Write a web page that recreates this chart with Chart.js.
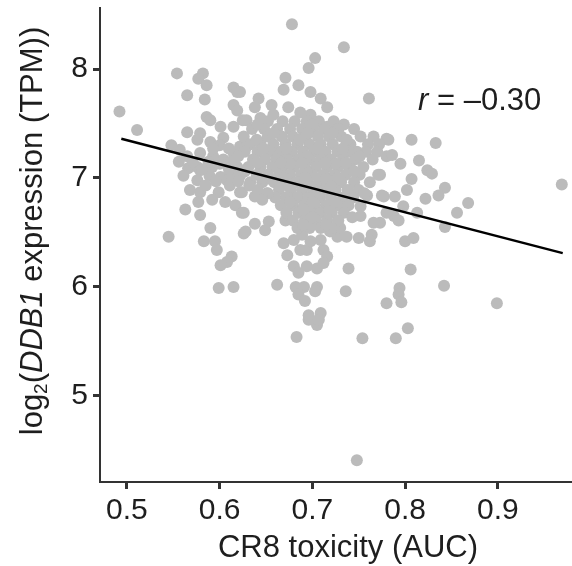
<!DOCTYPE html>
<html>
<head>
<meta charset="utf-8">
<script src="https://cdn.jsdelivr.net/npm/chart.js@4"></script>
<style>
  body { margin: 0; background: #fff; }
  canvas { display: block; }
</style>
</head>
<body>
<canvas id="chart_scatter" width="572" height="566"></canvas>
<script>
const canvasScatter = document.getElementById('chart_scatter');

/* DATA */
const X_TICKS = [0.5, 0.6, 0.7, 0.8, 0.9];
const Y_TICKS = [5, 6, 7, 8];
const X_RANGE = [0.471, 0.980];
const Y_RANGE = [4.21, 8.56];

// cell lines above / left of the cloud
const UPPER_POINTS = [
    [0.554,7.96],[0.582,7.96],[0.577,7.91],[0.586,7.85],[0.565,7.76],[0.584,7.72],[0.615,7.83],[0.619,7.79],
    [0.492,7.61],[0.511,7.44],[0.586,7.56],[0.590,7.53],[0.615,7.67],[0.619,7.62],[0.601,7.47],[0.565,7.42],
    [0.579,7.41],[0.576,7.35],[0.590,7.33],[0.604,7.37],[0.615,7.47],[0.625,7.53],[0.557,7.26],[0.565,7.20],
    [0.579,7.23],[0.593,7.20],[0.615,7.23],[0.622,7.29],
    [0.678,8.41],[0.734,8.20],[0.703,8.10],[0.696,8.01],[0.671,7.92],[0.685,7.85],[0.669,7.81],[0.698,7.79],
    [0.709,7.73],[0.716,7.65],[0.761,7.73],[0.642,7.73],[0.638,7.65],[0.656,7.67],[0.674,7.65],[0.622,7.79],
    [0.780,7.36],[0.780,7.20],[0.734,7.49],[0.716,7.47],[0.698,7.58],[0.687,7.60],[0.658,7.58],[0.644,7.55],
    [0.629,7.53],[0.644,7.32],[0.629,7.29],[0.748,7.24],[0.737,7.33]
];

// right hand side
const RIGHT_POINTS = [
    [0.782,7.35],[0.807,7.35],[0.833,7.32],[0.786,7.21],[0.795,7.13],[0.815,7.16],[0.824,7.07],[0.829,7.04],
    [0.807,6.99],[0.773,7.03],[0.843,6.91],[0.836,6.84],[0.802,6.89],[0.789,6.83],[0.777,6.83],[0.822,6.81],
    [0.969,6.94],[0.868,6.77],[0.856,6.68],[0.843,6.55],[0.798,6.74],[0.813,6.68],[0.788,6.65],[0.780,6.68],
    [0.793,6.61],[0.800,6.42],[0.809,6.45],[0.773,6.59],
    [0.899,5.85],[0.842,6.01],[0.806,6.16],[0.794,5.99],[0.793,5.93],[0.780,5.85],[0.796,5.86],[0.803,5.62],
    [0.790,5.53]
];

// below the line
const LOWER_POINTS = [
    [0.683,5.54],[0.705,5.65],[0.696,5.70],[0.754,5.53],[0.748,4.41],
    [0.566,7.09],[0.579,7.07],[0.576,6.98],[0.568,6.89],[0.579,6.87],[0.577,6.78],[0.563,6.71],[0.579,6.66],
    [0.601,7.01],[0.608,6.98],[0.599,6.87],[0.606,6.78],[0.622,6.87],[0.617,6.75],[0.624,6.68],[0.590,6.54],
    [0.545,6.46],[0.583,6.42],[0.595,6.42],[0.597,6.34],[0.613,6.28],[0.608,6.23],[0.601,6.20],[0.626,6.49],
    [0.599,5.99],[0.615,6.00],[0.576,7.10],[0.619,7.10],
    [0.771,7.03],[0.759,6.84],[0.775,6.84],[0.752,6.74],[0.752,6.65],[0.766,6.59],[0.764,6.48],[0.750,6.45],
    [0.762,6.42],[0.739,6.17],[0.669,6.40],[0.673,6.29],[0.680,6.19],[0.662,6.02],[0.682,6.00],[0.691,6.00],
    [0.705,6.00],[0.703,5.96],[0.685,5.93],[0.692,5.87],[0.736,5.96],[0.696,5.74],[0.709,5.76],[0.707,5.70],
    [0.638,6.58],[0.653,6.60],[0.649,6.52],[0.628,6.51],[0.626,6.68],[0.624,6.87],[0.638,6.83],[0.651,6.86],
    [0.671,6.61],[0.680,6.43],[0.687,6.34],[0.694,6.34],[0.712,6.34],[0.716,6.28],[0.705,6.17],[0.694,6.19],
    [0.685,6.13],[0.712,6.22],[0.727,6.46],[0.737,6.46],[0.730,6.54],[0.719,6.51],[0.709,6.43],[0.698,6.42],
    [0.689,6.48],[0.743,7.07]
];

// dense centre of the cloud
const CORE_POINTS = [
    [0.652,7.52],[0.668,7.52],[0.681,7.52],[0.694,7.52],[0.707,7.52],[0.723,7.52],
    [0.635,7.45],[0.648,7.45],[0.662,7.45],[0.676,7.45],[0.689,7.45],[0.701,7.45],[0.713,7.45],[0.728,7.45],[0.745,7.45],
    [0.626,7.38],[0.652,7.38],[0.667,7.38],[0.679,7.38],[0.693,7.38],[0.706,7.38],[0.718,7.38],[0.731,7.38],[0.752,7.38],[0.766,7.38],
    [0.633,7.31],[0.658,7.31],[0.671,7.31],[0.684,7.31],[0.697,7.31],[0.709,7.31],[0.722,7.31],[0.741,7.31],[0.760,7.31],[0.772,7.31],
    [0.627,7.24],[0.641,7.24],[0.655,7.24],[0.666,7.24],[0.678,7.24],[0.690,7.24],[0.702,7.24],[0.714,7.24],[0.727,7.24],[0.739,7.24],[0.758,7.24],[0.770,7.24],
    [0.604,7.17],[0.636,7.17],[0.649,7.17],[0.661,7.17],[0.673,7.17],[0.685,7.17],[0.697,7.17],[0.709,7.17],[0.720,7.17],[0.733,7.17],[0.746,7.17],[0.765,7.17],
    [0.592,7.10],[0.631,7.10],[0.644,7.10],[0.657,7.10],[0.668,7.10],[0.680,7.10],[0.692,7.10],[0.704,7.10],[0.716,7.10],[0.728,7.10],[0.740,7.10],[0.755,7.10],
    [0.612,7.03],[0.640,7.03],[0.652,7.03],[0.664,7.03],[0.676,7.03],[0.688,7.03],[0.700,7.03],[0.712,7.03],[0.724,7.03],[0.736,7.03],[0.751,7.03],
    [0.633,6.96],[0.646,6.96],[0.659,6.96],[0.671,6.96],[0.683,6.96],[0.695,6.96],[0.707,6.96],[0.719,6.96],[0.731,6.96],[0.745,6.96],[0.762,6.96],
    [0.641,6.89],[0.664,6.89],[0.677,6.89],[0.689,6.89],[0.701,6.89],[0.713,6.89],[0.725,6.89],[0.738,6.89],[0.750,6.89],
    [0.660,6.82],[0.672,6.82],[0.684,6.82],[0.696,6.82],[0.708,6.82],[0.720,6.82],[0.733,6.82],[0.744,6.82],
    [0.666,6.75],[0.679,6.75],[0.691,6.75],[0.703,6.75],[0.715,6.75],[0.727,6.75],[0.739,6.75],
    [0.672,6.68],[0.685,6.68],[0.697,6.68],[0.709,6.68],[0.721,6.68],[0.734,6.68],
    [0.679,6.61],[0.692,6.61],[0.704,6.61],[0.716,6.61],[0.728,6.61],
    [0.684,6.54],[0.697,6.54],[0.709,6.54],[0.721,6.54],
    [0.641,7.49],[0.700,7.49],[0.640,7.35],[0.686,7.35],[0.737,7.35],[0.620,7.20],[0.694,7.20],[0.751,7.20],
    [0.600,7.13],[0.676,7.13],[0.725,7.13],[0.627,7.06],[0.694,7.06],[0.745,7.06],[0.655,6.99],[0.715,6.99],
    [0.652,6.86],[0.707,6.86],[0.756,6.86],[0.690,6.71],[0.718,6.71],[0.700,6.64],[0.743,6.64],
    [0.556,7.15],[0.571,7.15],[0.588,7.15],[0.612,7.15],[0.561,7.02],[0.589,7.02],[0.622,7.02],
    [0.585,6.93],[0.611,6.93],[0.632,6.93],[0.548,7.30],[0.600,7.30],[0.592,6.80],[0.646,6.80],
    [0.658,7.41],[0.695,7.41],[0.722,7.41],[0.647,7.27],[0.672,7.27],[0.706,7.27],[0.733,7.27],
    [0.641,7.14],[0.666,7.14],[0.689,7.14],[0.714,7.14],[0.736,7.14],[0.646,7.00],[0.670,7.00],[0.692,7.00],[0.727,7.00],
    [0.675,6.92],[0.698,6.92],[0.720,6.92],[0.676,6.78],[0.700,6.78],[0.724,6.78],[0.690,6.57],[0.715,6.57],
    [0.593,7.27],[0.610,7.27],[0.581,7.08],[0.610,7.08],[0.596,6.97],[0.620,6.97]
];

// linear fit, r = -0.30
const FIT_SLOPE = -2.206;
const FIT_INTERCEPT = 8.450;
const FIT_X = [0.494, 0.970];
const R_LABEL = 'r';
const R_VALUE = ' = \u20130.30';

const X_TITLE = 'CR8 toxicity (AUC)';
const Y_TITLE = [
    ['log', ''],
    ['2', 'sub'],
    ['(', ''],
    ['DDB1', 'italic'],
    [' expression (TPM))', '']
];

/* STYLE */
const FONT = "'Liberation Sans', Arial, Helvetica, sans-serif";
const TEXT_COLOR = '#1e1e1e';
const AXIS_COLOR = '#333333';
const POINT_COLOR = '#bbbbbb';

const toXY = (pairs) => pairs.map(p => ({ x: p[0], y: p[1] }));

const allPoints = [].concat(
    toXY(UPPER_POINTS),
    toXY(RIGHT_POINTS),
    toXY(LOWER_POINTS),
    toXY(CORE_POINTS)
);

const fitLine = FIT_X.map(x => ({ x: x, y: FIT_INTERCEPT + FIT_SLOPE * x }));

/* TEXT PLUGIN */
const textPlugin = {
    id: 'textPlugin',
    afterDraw(chart) {
        const ctx = chart.ctx;
        const area = chart.chartArea;
        const sx = chart.scales.x;
        const sy = chart.scales.y;

        ctx.save();
        ctx.fillStyle = TEXT_COLOR;
        ctx.textBaseline = 'alphabetic';

        // x title
        ctx.font = '31px ' + FONT;
        ctx.textAlign = 'center';
        ctx.fillText(X_TITLE, (area.left + area.right) / 2 + 12, chart.height - 9);

        // y title, rotated, with subscript and italic gene name
        ctx.textAlign = 'left';
        const fontFor = (kind) => {
            if (kind === 'sub') return '19px ' + FONT;
            if (kind === 'italic') return 'italic 31px ' + FONT;
            return '31px ' + FONT;
        };
        let total = 0;
        Y_TITLE.forEach(seg => {
            ctx.font = fontFor(seg[1]);
            total += ctx.measureText(seg[0]).width;
        });
        ctx.save();
        ctx.translate(42, (area.top + area.bottom) / 2 - 14);
        ctx.rotate(-Math.PI / 2);
        let cx = -total / 2;
        Y_TITLE.forEach(seg => {
            ctx.font = fontFor(seg[1]);
            ctx.fillText(seg[0], cx, seg[1] === 'sub' ? 5 : 0);
            cx += ctx.measureText(seg[0]).width;
        });
        ctx.restore();

        // r label
        let rx = sx.getPixelForValue(0.814);
        const ry = sy.getPixelForValue(7.62);
        ctx.font = 'italic 31px ' + FONT;
        ctx.fillText(R_LABEL, rx, ry);
        rx += ctx.measureText(R_LABEL).width;
        ctx.font = '31px ' + FONT;
        ctx.fillText(R_VALUE, rx, ry);

        ctx.restore();
    }
};

/* Scatter Chart */
var chartScatter = new Chart(canvasScatter, {
    type: 'scatter',
    data: {
        datasets: [
            {
                type: 'line',
                data: fitLine,
                borderColor: '#000000',
                borderWidth: 2.5,
                pointRadius: 0,
                fill: false,
                order: 0
            },
            {
                data: allPoints,
                backgroundColor: POINT_COLOR,
                borderWidth: 0,
                pointRadius: 6,
                pointHoverRadius: 6,
                order: 1
            }
        ]
    },
    options: {
        responsive: false,
        animation: false,
        devicePixelRatio: 1,
        layout: {
            autoPadding: false,
            padding: { top: 8, right: 0, left: 0, bottom: 0 }
        },
        plugins: {
            legend: { display: false },
            tooltip: { enabled: false }
        },
        scales: {
            x: {
                type: 'linear',
                min: X_RANGE[0],
                max: X_RANGE[1],
                afterBuildTicks: (scale) => { scale.ticks = X_TICKS.map(v => ({ value: v })); },
                afterFit: (scale) => {
                    scale.height = 84;
                    scale.paddingLeft = 0;
                    scale.paddingRight = 0;
                },
                ticks: {
                    font: { family: FONT, size: 30 },
                    color: TEXT_COLOR,
                    padding: 4,
                    maxRotation: 0,
                    callback: (v) => Number(v).toFixed(1)
                },
                grid: {
                    drawOnChartArea: false,
                    drawTicks: true,
                    tickLength: 7,
                    tickWidth: 3,
                    tickColor: AXIS_COLOR
                },
                border: { display: true, color: AXIS_COLOR, width: 2 }
            },
            y: {
                type: 'linear',
                min: Y_RANGE[0],
                max: Y_RANGE[1],
                afterBuildTicks: (scale) => { scale.ticks = Y_TICKS.map(v => ({ value: v })); },
                afterFit: (scale) => {
                    scale.width = 100;
                    scale.paddingTop = 0;
                    scale.paddingBottom = 0;
                },
                ticks: {
                    font: { family: FONT, size: 30 },
                    color: TEXT_COLOR,
                    padding: 5,
                    callback: (v) => String(v)
                },
                grid: {
                    drawOnChartArea: false,
                    drawTicks: true,
                    tickLength: 7,
                    tickWidth: 3,
                    tickColor: AXIS_COLOR
                },
                border: { display: true, color: AXIS_COLOR, width: 2 }
            }
        }
    },
    plugins: [textPlugin]
});
</script>
</body>
</html>
